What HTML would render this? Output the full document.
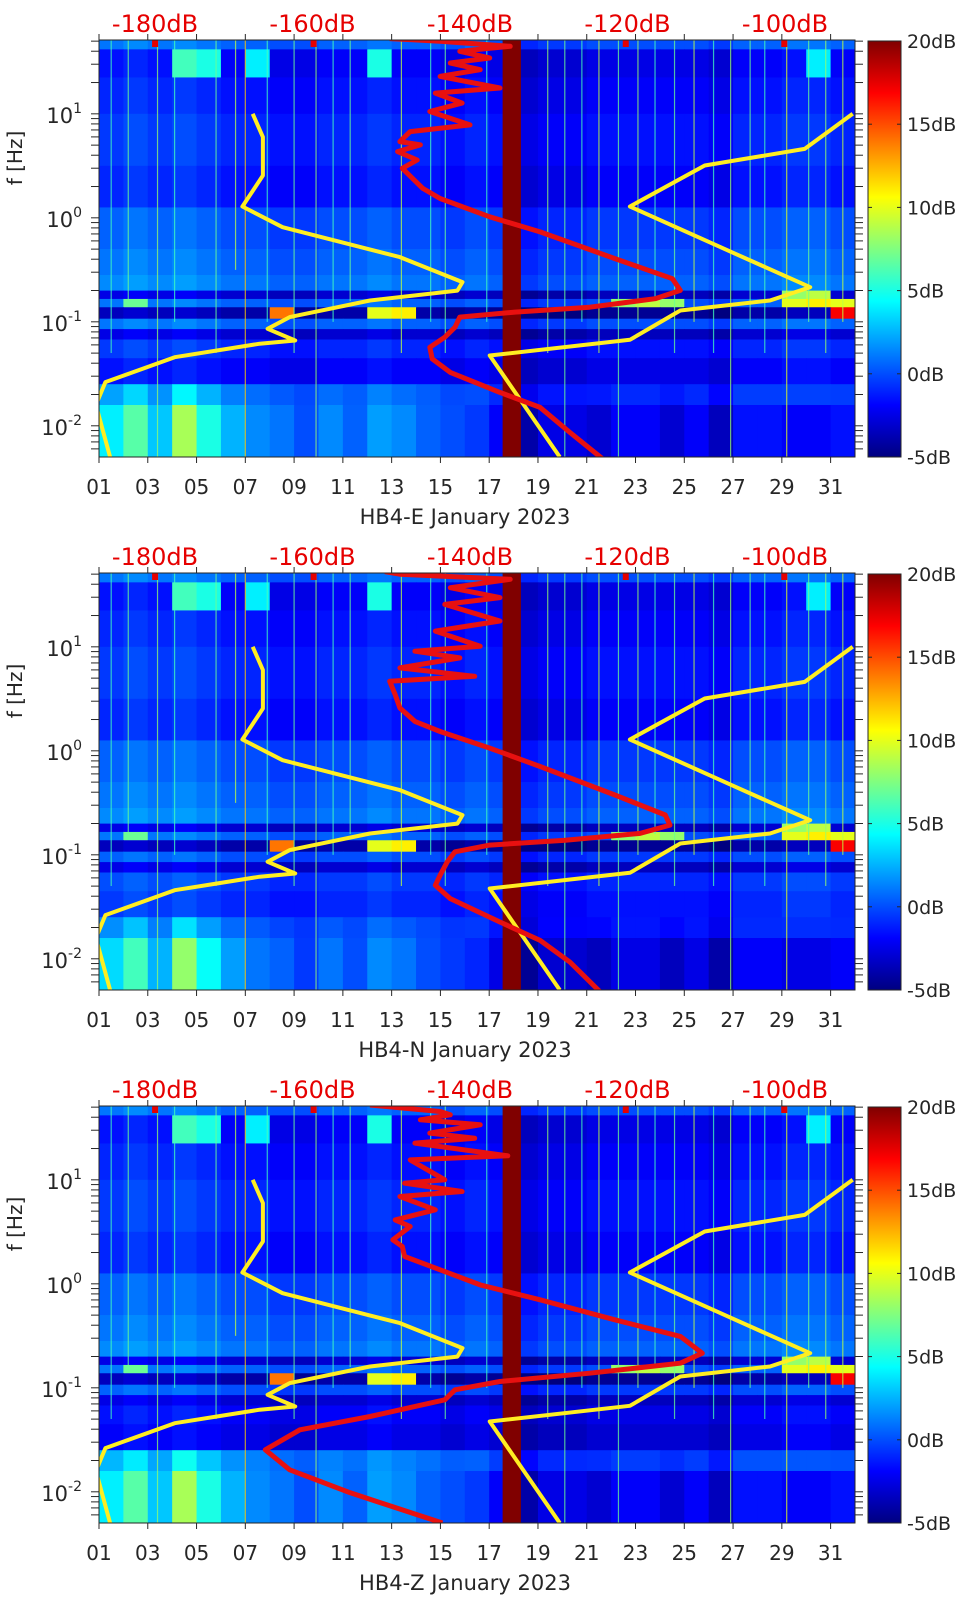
<!DOCTYPE html>
<html><head><meta charset="utf-8">
<style>
html,body{margin:0;padding:0;background:#fff;}
svg{display:block;font-family:"DejaVu Sans","Liberation Sans",sans-serif;}
</style></head>
<body>
<svg id="chart" width="962" height="1599" viewBox="0 0 962 1599" xmlns="http://www.w3.org/2000/svg">
<defs>
<linearGradient id="jetgrad" x1="0" y1="1" x2="0" y2="0">
<stop offset="0" stop-color="#000080"/><stop offset="0.125" stop-color="#0000ff"/><stop offset="0.375" stop-color="#00ffff"/><stop offset="0.5" stop-color="#80ff80"/><stop offset="0.625" stop-color="#ffff00"/><stop offset="0.875" stop-color="#ff0000"/><stop offset="1" stop-color="#800000"/>
</linearGradient>
</defs>
</svg>
<script>
// ---------- data ----------
const panelNames = ['HB4-E January 2023','HB4-N January 2023','HB4-Z January 2023'];
const dbTicks = [-180,-160,-140,-120,-100];
const cbTicks = [20,15,10,5,0,-5];
const dayTicks = [1,3,5,7,9,11,13,15,17,19,21,23,25,27,29,31];
const freqDecades = [1,0,-1,-2];
// frequency bands (log10 Hz) for spectrogram cells
const bandEdges = [1.71,1.62,1.35,1.0,0.5,0.1,-0.3,-0.55,-0.7,-0.78,-0.86,-0.97,-1.07,-1.17,-1.35,-1.6,-1.8,-2.3];
const baseE = [0,-2.5,-2,-1.5,-2,-0.5,0,0.5,-3.5,0,-4.5,0,-3.5,-1.5,-2.5,-0.5,-1];
const baseN = [0,-2.5,-2,-1.5,-2,-0.5,0,0.5,-3.5,0,-4.5,-0.5,-3.5,-1,-1.5,-1,-1.5];
const baseZ = [0,-2.5,-2,-1.5,-2,-0.5,0,0.5,-3.5,0,-4.5,-0.5,-3.5,-2.5,-3,0,-1];
const dayOffset = [1,1.5,1,1.5,1,0.5,0.5,0,0,0.5,0.5,1,0.5,0.5,0,0.5,0,-1,-0.5,-0.5,0,0,0,0,0,-0.5,0.5,0.5,1,1,0.5];
const lowOffset = [4,6,3,8,5,3,2,2,1,2,1,2,2,1,1,0,-1,-2,-1,-1,-2,-1,-1,-2,-1,-2,-1,-1,-2,-2,-1];
const hotDay  = [8,12,13,2,22,23,24,29,30,31,29,30,31,4,5,7,12,30];
const hotBand = [10,10,10,9,9,9,9,9,9,9,8,8,10,1,1,1,1,1];
const hotVal  = [14,10,11,7,8,9,8,10,11,10,8,9,17,6,5,4,5,4];
const spikeDays = [1.5,2.2,3.4,4.1,5.8,6.6,7.0,7.9,9.0,9.9,10.6,11.3,13.4,14.6,15.2,16.9,19.4,20.1,20.8,21.5,22.3,23.1,23.8,24.6,25.4,26.2,26.9,27.7,28.3,29.2,30.1,30.8,31.5];
const spikeVal  = [6,7,8,6,7,9,12,6,7,8,6,7,9,6,7,6,8,7,6,9,7,8,6,7,9,6,8,7,6,10,7,8,9];
const spikeEnd  = [-1.3,-0.8,-2.3,-1,-1.3,-0.5,-2.3,-1,-1.3,-2.3,-1,-0.8,-1.3,-1,-1.3,-1,-1.3,-2.3,-1,-1.3,-2.3,-1,-0.8,-1.3,-1,-1.3,-2.3,-1,-1.3,-2.3,-1,-1.3,-1];
const markerDays = [3.3,9.8,22.6,29.1];
const gapStart = 17.55, gapEnd = 18.3;
// NLNM / NHNM model curves
const nlnmDb   = [-167.6,-166.3,-166.3,-168.9,-163.8,-148.9,-140.95,-141.6,-152.7,-162.9,-165.7,-162.2,-166.7,-177.5,-186.3,-187.5,-185.7];
const nlnmLogF = [1.0,0.776,0.407,0.109,-0.09,-0.378,-0.618,-0.70,-0.795,-0.955,-1.067,-1.18,-1.21,-1.34,-1.58,-1.80,-2.30];
const nhnmDb   = [-91.4,-97.5,-110.2,-119.7,-106.3,-96.8,-101.9,-113.3,-119.7,-137.5,-128.6];
const nhnmLogF = [1.0,0.663,0.503,0.109,-0.346,-0.667,-0.795,-0.891,-1.173,-1.324,-2.30];
// median PSD (red) per channel
const psdEDb   = [-150.2,-147.6,-143.8,-134.9,-141.3,-137.5,-142.5,-138.7,-143.8,-136.2,-144.4,-141.0,-145.1,-140.0,-147.6,-148.9,-146.3,-149.2,-146.7,-148.6,-147.3,-146.0,-143.8,-137.5,-131.1,-121.6,-114.3,-113.3,-116.5,-124.8,-134.3,-141.3,-141.9,-143.2,-145.1,-144.8,-142.5,-136.2,-131.1,-127.3,-123.2];
const psdELogF = [1.723,1.714,1.698,1.649,1.601,1.537,1.489,1.424,1.360,1.248,1.199,1.103,1.022,0.894,0.829,0.733,0.701,0.637,0.556,0.476,0.379,0.283,0.186,0.010,-0.135,-0.392,-0.585,-0.698,-0.778,-0.859,-0.907,-0.955,-1.052,-1.148,-1.245,-1.357,-1.486,-1.679,-1.823,-2.064,-2.315];
const psdNDb   = [-150.8,-148.9,-134.9,-142.5,-136.2,-143.2,-136.2,-144.4,-138.7,-147.0,-141.3,-148.9,-139.4,-150.2,-149.5,-148.9,-147.0,-143.8,-137.5,-131.1,-121.6,-115.2,-114.6,-118.4,-127.9,-137.5,-141.9,-142.9,-143.8,-144.4,-142.5,-136.2,-131.1,-127.3,-123.5];
const psdNLogF = [1.723,1.698,1.649,1.569,1.473,1.408,1.248,1.151,1.006,0.958,0.894,0.797,0.717,0.669,0.540,0.412,0.283,0.186,0.026,-0.151,-0.425,-0.617,-0.714,-0.794,-0.859,-0.907,-0.971,-1.068,-1.196,-1.293,-1.421,-1.646,-1.823,-2.032,-2.315];
const psdZDb   = [-152.7,-143.8,-142.5,-146.3,-138.7,-145.1,-139.4,-147.0,-135.2,-147.6,-143.2,-148.3,-141.0,-148.9,-144.4,-149.5,-147.6,-149.8,-148.6,-148.3,-143.8,-138.7,-131.1,-121.6,-113.3,-110.5,-113.3,-124.8,-136.2,-141.9,-143.2,-152.7,-161.6,-166.0,-162.9,-155.2,-143.5];
const psdZLogF = [1.72,1.657,1.625,1.577,1.529,1.449,1.40,1.353,1.231,1.192,1.0,0.968,0.888,0.840,0.712,0.615,0.551,0.423,0.359,0.263,0.135,-0.01,-0.154,-0.346,-0.506,-0.667,-0.763,-0.859,-0.939,-1.019,-1.115,-1.276,-1.404,-1.596,-1.788,-2.01,-2.30];

// ---------- layout ----------
const NS = 'http://www.w3.org/2000/svg';
const svg = document.getElementById('chart');
const PL = 99, PR = 855, PH = 417, TOPS = [40,573,1106];
const LOGTOP = 1.71, LOGBOT = -2.30;
const INK = '#262626';
function xDay(d){ return PL + (d-1)*(PR-PL)/31; }
function yLog(top, lf){ return top + (LOGTOP-lf)/(LOGTOP-LOGBOT)*PH; }
function xDb(db){ return 155 + (db+180)*7.875; }
function clamp(v){ return Math.max(0, Math.min(1, v)); }
function jet(v){
  const t = clamp((v+5)/25);
  const r = clamp(1.5-Math.abs(4*t-3)), g = clamp(1.5-Math.abs(4*t-2)), b = clamp(1.5-Math.abs(4*t-1));
  return 'rgb(' + Math.round(r*255) + ',' + Math.round(g*255) + ',' + Math.round(b*255) + ')';
}
function mk(tag, attrs, parent){
  const e = document.createElementNS(NS, tag);
  for (const k in attrs) e.setAttribute(k, attrs[k]);
  (parent || svg).appendChild(e);
  return e;
}
const bases = [baseE, baseN, baseZ];
const psdDb = [psdEDb, psdNDb, psdZDb];
const psdLogF = [psdELogF, psdNLogF, psdZLogF];

TOPS.forEach(function(top, p){
  const g = mk('g', {});
  
  
  const cp = mk('clipPath', {id: 'clip' + p}, g);
  mk('rect', {x: PL, y: top, width: PR-PL, height: PH}, cp);
  const plot = mk('g', {'clip-path': 'url(#clip' + p + ')'}, g);
  
  
  const base = bases[p];
  const nb = bandEdges.length-1;
  for (let b = 0; b < nb; b++){
    for (let d = 1; d <= 31; d++){
      let low = 0;
      if (b === nb-1) low = lowOffset[d-1];
      else if (b === nb-2) low = lowOffset[d-1]*0.4;
      let v = base[b] + dayOffset[d-1] + low;
      for (let h = 0; h < hotDay.length; h++){ if (hotDay[h] === d && hotBand[h] === b) v = hotVal[h]; }
      const y0 = yLog(top, bandEdges[b]), y1 = yLog(top, bandEdges[b+1]);
      const c = mk('rect', {x: xDay(d), y: y0, width: xDay(d+1)-xDay(d)+0.6, height: y1-y0+0.6, fill: jet(v)}, plot);
      
      
    }
  }
  spikeDays.forEach(function(sd, i){
    const l = mk('line', {x1: xDay(sd), x2: xDay(sd), y1: top, y2: yLog(top, spikeEnd[i]), stroke: jet(spikeVal[i]), 'stroke-width': 1.2, opacity: 0.75}, plot);
    
    
  });
  markerDays.forEach(function(md){
    const m = mk('rect', {x: xDay(md)-3, y: top, width: 6, height: 7, fill: '#e60000'}, plot);
    
    
  });
  const gap = mk('rect', {x: xDay(gapStart), y: top, width: xDay(gapEnd)-xDay(gapStart), height: PH, fill: jet(20)}, plot);
  
  
  function curve(dbs, lfs, color, name, w){
    const pts = dbs.map(function(v, i){ return xDb(v).toFixed(1) + ',' + yLog(top, lfs[i]).toFixed(1); }).join(' ');
    const pl = mk('polyline', {points: pts, fill: 'none', stroke: color, 'stroke-width': w, 'stroke-linejoin': 'round'}, plot);
    
    
  }
  curve(nlnmDb, nlnmLogF, '#ffee22', 'nlnm-curve', 4);
  curve(nhnmDb, nhnmLogF, '#ffee22', 'nhnm-curve', 4);
  curve(psdDb[p], psdLogF[p], '#e81010', 'median-psd-curve', 5);
  const box = mk('rect', {x: PL, y: top, width: PR-PL, height: PH, fill: 'none', stroke: INK, 'stroke-width': 1}, g);
  
  
  dayTicks.forEach(function(d){
    const x = xDay(d);
    mk('line', {x1: x, x2: x, y1: top+PH, y2: top+PH+6, stroke: INK}, g);
    mk('line', {x1: x, x2: x, y1: top, y2: top-6, stroke: INK}, g);
    const t = mk('text', {x: x, y: top+PH+37, 'font-size': 20, fill: INK, 'text-anchor': 'middle'}, g);
    t.textContent = (d < 10 ? '0' : '') + d;
    
    
  });
  dbTicks.forEach(function(v){
    const t = mk('text', {x: xDb(v), y: top-8, 'font-size': 24, fill: '#e60000', 'text-anchor': 'middle'}, g);
    t.textContent = v + 'dB';
    
    
  });
  for (let dec = -3; dec <= 1; dec++){
    for (let m = 1; m <= 9; m++){
      const lf = dec + Math.log10(m);
      if (lf > LOGTOP || lf < LOGBOT) continue;
      const y = yLog(top, lf);
      mk('line', {x1: PL-8, x2: PL, y1: y, y2: y, stroke: INK}, g);
      mk('line', {x1: PR, x2: PR+8, y1: y, y2: y, stroke: INK}, g);
    }
  }
  freqDecades.forEach(function(dec){
    const y = yLog(top, dec);
    const t = mk('text', {x: 82, y: y+9, 'font-size': 21, fill: INK, 'text-anchor': 'end'}, g);
    
    
    const a = mk('tspan', {}, t); a.textContent = '10';
    const s = mk('tspan', {dy: -10, 'font-size': 14}, t); s.textContent = String(dec);
  });
  const yl = mk('text', {x: 0, y: 0, 'font-size': 20, fill: INK, 'text-anchor': 'middle', transform: 'translate(22,' + (top+118) + ') rotate(-90)'}, g);
  yl.textContent = 'f [Hz]';
  
  
  const xl = mk('text', {x: 465, y: top+PH+67, 'font-size': 21, fill: INK, 'text-anchor': 'middle'}, g);
  xl.textContent = panelNames[p];
  
  
  const cb = mk('rect', {x: 868, y: top+1, width: 33, height: PH-1, fill: 'url(#jetgrad)', stroke: INK, 'stroke-width': 1}, g);
  
  
  cbTicks.forEach(function(v){
    const y = top+1 + (20-v)/25*(PH-1);
    mk('line', {x1: 868, x2: 872, y1: y, y2: y, stroke: INK}, g);
    mk('line', {x1: 897, x2: 901, y1: y, y2: y, stroke: INK}, g);
    const t = mk('text', {x: 907, y: y+7, 'font-size': 19, fill: INK}, g);
    t.textContent = v + 'dB';
    
    
  });
});
</script>
</body></html>
